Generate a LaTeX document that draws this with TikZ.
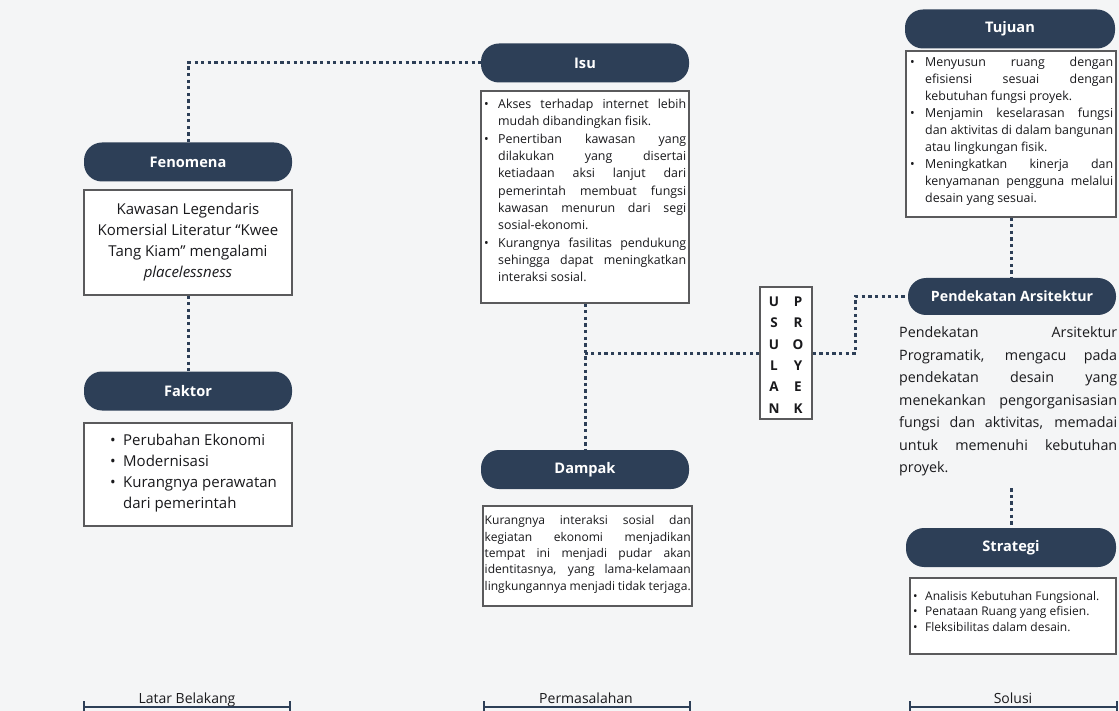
\documentclass[tikz,border=0pt]{standalone}
\usepackage{fontspec}
\setmainfont{Open Sans}
\definecolor{navy}{RGB}{45,63,87}
\definecolor{paper}{RGB}{244,245,246}
\definecolor{boxline}{RGB}{90,90,92}
\definecolor{ink}{RGB}{25,25,28}
\newlength\bw \newlength\tw
\newcommand\BJ[1]{\makebox[\bw][l]{•}\makebox[\tw][s]{#1}}
\newcommand\BL[1]{\makebox[\bw][l]{•}#1}
\newcommand\CJ[1]{\hspace*{\bw}\makebox[\tw][s]{#1}}
\newcommand\CL[1]{\hspace*{\bw}#1}
\newcommand\PJ[1]{\makebox[\tw][s]{#1}}
\tikzset{
  pill/.style={fill=navy, rounded corners=18pt, minimum height=39pt, text=white,
    font=\fontsize{14.6}{16}\selectfont\bfseries, inner sep=0},
  box/.style={draw=boxline, line width=1.2pt, fill=white, inner sep=0},
  txt/.style={text=ink, inner sep=0, anchor=north west, align=left},
  dots/.style={draw=navy, line width=3pt, dash pattern=on 3.3pt off 3.3pt},
  brk/.style={draw=navy, line width=2pt},
  lab/.style={text=ink, font=\fontsize{14}{16}\selectfont, inner sep=0, anchor=base},
}
\begin{document}
\begin{tikzpicture}[x=1pt,y=-1pt]
\fill[paper] (0,0) rectangle (1119,711);
\useasboundingbox (0,0) rectangle (1119,711);

% ---------- Latar Belakang column ----------
\node[pill, minimum width=208pt] (fen) at (188,162) {Fenomena};
\node[box, minimum width=208pt, minimum height=105pt] (fenbox) at (188,242.5) {};
\node[align=center, text=ink, font=\fontsize{15}{21}\selectfont, inner sep=0] (fentxt) at (188,242.5)
  {Kawasan Legendaris\\ Komersial Literatur “Kwee\\ Tang Kiam\symbol{"22} mengalami\\ \textit{placelessness}};

\node[pill, minimum width=208pt] (fak) at (188,391) {Faktor};
\node[box, minimum width=208pt, minimum height=103pt] (fakbox) at (188,474.5) {};
\setlength\bw{13pt}
\node[txt, font=\fontsize{15}{21}\selectfont] (faktxt) at (110,434)
  {\BL{Perubahan Ekonomi}\\ \BL{Modernisasi}\\ \BL{Kurangnya perawatan}\\ \CL{dari pemerintah}};

% ---------- Permasalahan column ----------
\node[pill, minimum width=208pt] (isu) at (585,63) {Isu};
\node[box, minimum width=208pt, minimum height=212pt] (isubox) at (585,197) {};
\setlength\bw{14pt}\setlength\tw{188pt}
\node[txt, font=\fontsize{12.4}{17.3}\selectfont] (isutxt) at (484,99)
  {\BJ{Akses terhadap internet lebih}\\
   \CL{mudah dibandingkan fisik.}\\
   \BJ{Penertiban kawasan yang}\\
   \CJ{dilakukan yang disertai}\\
   \CJ{ketiadaan aksi lanjut dari}\\
   \CJ{pemerintah membuat fungsi}\\
   \CJ{kawasan menurun dari segi}\\
   \CL{sosial-ekonomi.}\\
   \BJ{Kurangnya fasilitas pendukung}\\
   \CJ{sehingga dapat meningkatkan}\\
   \CL{interaksi sosial.}};

\node[pill, minimum width=208pt] (dam) at (585,469.5) {Dampak};
\node[box, minimum width=209pt, minimum height=100pt] (dambox) at (587.5,556) {};
\setlength\tw{206pt}
\node[txt, font=\fontsize{12.05}{16.3}\selectfont] (damtxt) at (484.5,515.5)
  {\PJ{Kurangnya interaksi sosial dan}\\
   \PJ{kegiatan ekonomi menjadikan}\\
   \PJ{tempat ini menjadi pudar akan}\\
   \PJ{identitasnya, yang lama-kelamaan}\\
   \PJ{lingkungannya menjadi tidak terjaga.}};

% ---------- Usulan Proyek ----------
\node[box, minimum width=52pt, minimum height=132pt] (usulan) at (786,353) {};
\node[text=ink, font=\fontsize{13.5}{21.4}\selectfont\bfseries, align=center, inner sep=0] (usultxt) at (786,355)
  {\makebox[24pt]{U}\makebox[24pt]{P}\\ \makebox[24pt]{S}\makebox[24pt]{R}\\
   \makebox[24pt]{U}\makebox[24pt]{O}\\ \makebox[24pt]{L}\makebox[24pt]{Y}\\
   \makebox[24pt]{A}\makebox[24pt]{E}\\ \makebox[24pt]{N}\makebox[24pt]{K}};

% ---------- Solusi column ----------
\node[pill, minimum width=210pt] (tuj) at (1010,29) {Tujuan};
\node[box, minimum width=210pt, minimum height=166pt] (tujbox) at (1011,134) {};
\setlength\bw{15pt}\setlength\tw{188pt}
\node[txt, font=\fontsize{12.4}{17.1}\selectfont] (tujtxt) at (910,56.5)
  {\BJ{Menyusun ruang dengan}\\
   \CJ{efisiensi sesuai dengan}\\
   \CL{kebutuhan fungsi proyek.}\\
   \BJ{Menjamin keselarasan fungsi}\\
   \CJ{dan aktivitas di dalam bangunan}\\
   \CL{atau lingkungan fisik.}\\
   \BJ{Meningkatkan kinerja dan}\\
   \CJ{kenyamanan pengguna melalui}\\
   \CL{desain yang sesuai.}};

\node[pill, minimum width=208pt, minimum height=37pt, font=\fontsize{14.2}{16}\selectfont\bfseries] (pend) at (1012,296.5) {Pendekatan Arsitektur};
\setlength\tw{218pt}
\node[txt, font=\fontsize{14.3}{22.5}\selectfont] (pendtxt) at (899,326.5)
  {\PJ{Pendekatan Arsitektur}\\
   \PJ{Programatik, mengacu pada}\\
   \PJ{pendekatan desain yang}\\
   \PJ{menekankan pengorganisasian}\\
   \PJ{fungsi dan aktivitas, memadai}\\
   \PJ{untuk memenuhi kebutuhan}\\
   proyek.};

\node[pill, minimum width=210pt] (strat) at (1011,547.5) {Strategi};
\node[box, minimum width=206pt, minimum height=76pt] (stratbox) at (1013,616) {};
\setlength\bw{12pt}
\node[txt, font=\fontsize{12}{15.5}\selectfont] (strattxt) at (913,591)
  {\BL{Analisis Kebutuhan Fungsional.}\\
   \BL{Penataan Ruang yang efisien.}\\
   \BL{Fleksibilitas dalam desain.}};

% ---------- connectors ----------
\draw[dots] (fen.north) |- (isu.west);
\draw[dots] (fenbox.south) -- (fak.north);
\draw[dots] (isubox.south) -- (dam.north);
\draw[dots] (usulan.west) -- (isubox.south |- usulan.west);
\draw[dots] (usulan.east) -- ++(43,0) |- (pend.west);
\draw[dots] (tujbox.south) -- (tujbox.south |- pend.north);
\draw[dots] ([yshift=-12pt]pendtxt.south -| strat.north) -- (strat.north);

% ---------- bottom labels ----------
\node[lab] (lb1) at (187,703) {Latar Belakang};
\draw[brk] (84,701) -- (84,711) (84,707) -- (290,707) (290,701) -- (290,711);
\node[lab] (lb2) at (586,703) {Permasalahan};
\draw[brk] (484,701) -- (484,711) (484,707) -- (690,707) (690,701) -- (690,711);
\node[lab] (lb3) at (1013,703) {Solusi};
\draw[brk] (910,701) -- (910,711) (910,707) -- (1117,707) (1117,701) -- (1117,711);
\end{tikzpicture}
\end{document}
